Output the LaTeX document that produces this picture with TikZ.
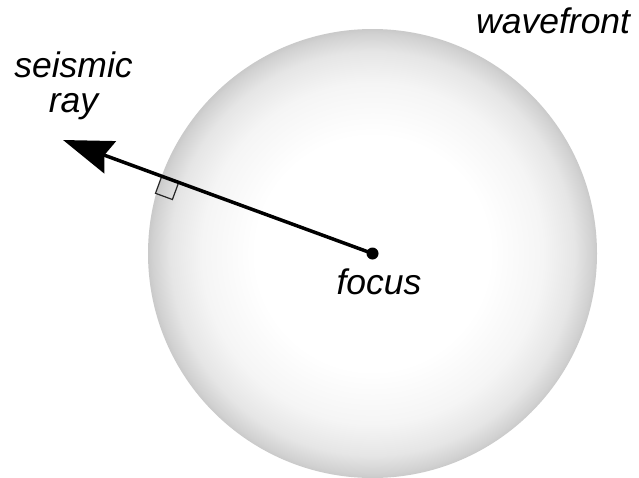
\documentclass[tikz,border=0pt]{standalone}
\usepackage{fontspec}
\setmainfont{Liberation Sans}
\usetikzlibrary{arrows.meta}
\pgfdeclareradialshading{wavefill}{\pgfpoint{0bp}{0bp}}{color(0bp)=(white); color(13bp)=(white); color(19bp)=(gray!8); color(22.5bp)=(gray!20); color(24.5bp)=(gray!36); color(25bp)=(gray!42); color(50bp)=(gray!42)}
\tikzset{
  lbl/.style={font=\fontsize{35.5}{40}\selectfont\itshape, inner sep=0pt, anchor=base},
  raystyle/.style={line width=3.5pt, -{Stealth[length=50pt,width=34pt,inset=6pt]}},
  rightmark/.style={line width=1.2pt, black!85}
}
\begin{document}
\begin{tikzpicture}[x=1pt,y=-1pt]
\fill[white] (0,0) rectangle (639,477);
\useasboundingbox (0,0) rectangle (639,477);
% wavefront sphere
\shade[shading=wavefill] (372.5,253.5) circle (224.5);
% right angle mark
\draw[rightmark] (161.7,176.4) -- (178.6,182.6) -- (172.4,199.5) -- (155.5,193.3) -- cycle;
% focus
\node[circle, fill=black, inner sep=0pt, minimum size=12pt] (focus) at (372.5,253.5) {};
\coordinate (tip) at (63,140);
\draw[raystyle] (focus.center) -- (tip);
% labels
\node[lbl] (foc) at (379,294) {focus};
\node[lbl] (seis) at (73.5,77) {seismic};
\node[lbl] (ray) at (73.5,112) {ray};
\node[lbl, anchor=base west] (wave) at (476,33) {wavefront};
\end{tikzpicture}
\end{document}
